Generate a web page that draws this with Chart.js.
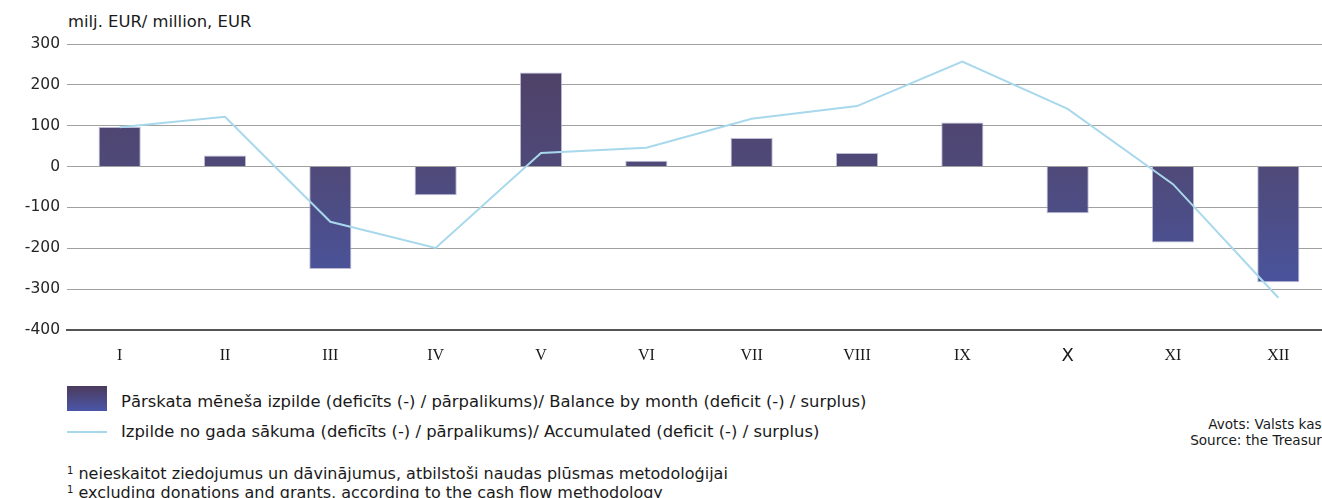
<!DOCTYPE html>
<html>
<head>
<meta charset="utf-8">
<script src="https://cdn.jsdelivr.net/npm/chart.js@4/dist/chart.umd.min.js"></script>
<style>
  html, body { margin: 0; padding: 0; background: #fff; }
  body { width: 1322px; height: 498px; overflow: hidden; position: relative; font-family: 'DejaVu Sans', Verdana, sans-serif; color: #1a1a1a; }
  .abs { position: absolute; white-space: nowrap; }
  #wrap { position: absolute; left: 0; top: 0; width: 1332px; height: 372px; }
  sup { font-size: 10px; vertical-align: 5px; }
</style>
</head>
<body>
<div class="abs" style="left:68px; top:12px; font-size:16.4px; line-height:20px;">milj. EUR/ million, EUR</div>
<div id="wrap"><canvas id="c" width="1332" height="372"></canvas></div>

<div class="abs" style="left:67px; top:386px; width:40px; height:25px; background:linear-gradient(#4c3b5d, #4a56a8);"></div>
<div class="abs" style="left:121px; top:392px; font-size:16.4px; line-height:20px;">Pārskata mēneša izpilde (deficīts (-) / pārpalikums)/ Balance by month (deficit (-) / surplus)</div>
<div class="abs" style="left:67px; top:431px; width:40px; height:2px; background:#a8d8ec;"></div>
<div class="abs" style="left:121px; top:422px; font-size:16.4px; line-height:20px;">Izpilde no gada sākuma (deficīts (-) / pārpalikums)/ Accumulated (deficit (-) / surplus)</div>

<div class="abs" style="right:-8px; top:416px; font-size:13.6px; line-height:16px; text-align:right;">Avots: Valsts kase<br>Source: the Treasury</div>

<div class="abs" style="left:67px; top:461px; font-size:16px; line-height:19px;"><sup>1</sup> neieskaitot ziedojumus un dāvinājumus, atbilstoši naudas plūsmas metodoloģijai</div>
<div class="abs" style="left:67px; top:480px; font-size:16px; line-height:19px;"><sup>1</sup> excluding donations and grants, according to the cash flow methodology</div>

<script>
const months = ['I','II','III','IV','V','VI','VII','VIII','IX','X','XI','XII'];
const monthlyBalance = [97, 27, -251, -70, 230, 14, 70, 33, 108, -114, -186, -283];
const accumulated = [96, 122, -135, -199, 33, 46, 117, 148, 257, 141, -43, -321];
const yTicks = [-400, -300, -200, -100, 0, 100, 200, 300];

function barGradient(context) {
  const chart = context.chart;
  const area = chart.chartArea;
  if (!area) return '#4d4a80';
  const g = chart.ctx.createLinearGradient(0, area.top, 0, area.bottom);
  g.addColorStop(0, '#4f3f63');
  g.addColorStop(0.45, '#4f4a7a');
  g.addColorStop(1, '#4757aa');
  return g;
}

new Chart(document.getElementById('c'), {
  data: {
    labels: months,
    datasets: [
      {
        type: 'line',
        label: 'Izpilde no gada sākuma',
        data: accumulated,
        borderColor: '#a8d8ec',
        borderWidth: 2,
        pointRadius: 0,
        tension: 0,
        fill: false,
        order: 0
      },
      {
        type: 'bar',
        label: 'Pārskata mēneša izpilde',
        data: monthlyBalance,
        backgroundColor: barGradient,
        borderColor: 'rgba(170,170,205,0.8)',
        borderWidth: 1,
        barPercentage: 0.4,
        categoryPercentage: 1.0,
        order: 1
      }
    ]
  },
  options: {
    responsive: false,
    animation: false,
    devicePixelRatio: 1,
    layout: { padding: { top: 44, left: 0, right: 1, bottom: 0 } },
    plugins: { legend: { display: false }, tooltip: { enabled: false } },
    scales: {
      x: {
        grid: { display: false, drawTicks: false },
        border: { display: true, color: '#555555', width: 2 },
        ticks: {
          padding: 16,
          color: '#1a1a1a',
          font: (ctx) => (ctx.tick && ctx.tick.label === 'X')
            ? { family: 'DejaVu Sans', size: 18 }
            : { family: 'Liberation Serif', size: 16 }
        },
        afterFit: (s) => { s.height = 42; }
      },
      y: {
        min: -400,
        max: 300,
        afterBuildTicks: (s) => { s.ticks = yTicks.map(v => ({ value: v })); },
        grid: { color: '#a0a0a0', lineWidth: 1, borderDash: [1, 1], drawTicks: false },
        border: { display: false },
        ticks: {
          padding: 7,
          color: '#262626',
          font: { family: 'DejaVu Sans', size: 15.5 }
        },
        afterFit: (s) => { s.width = 67; }
      }
    }
  }
});
</script>
</body>
</html>
